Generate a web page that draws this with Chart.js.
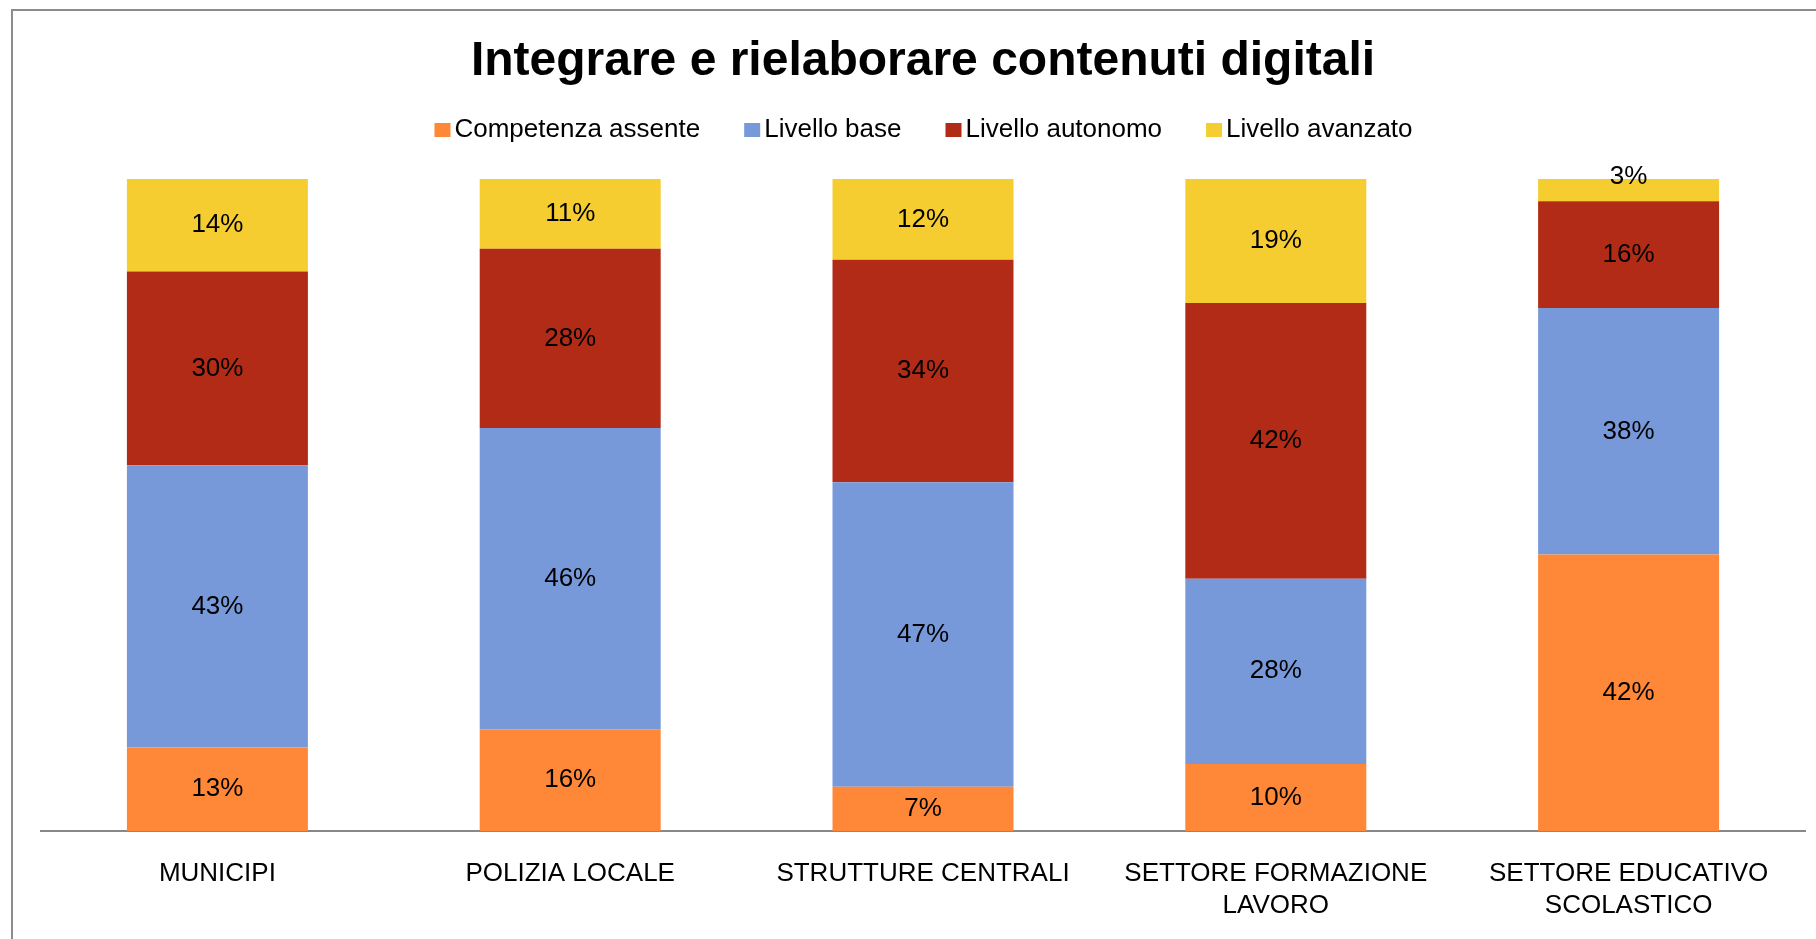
<!DOCTYPE html>
<html>
<head>
<meta charset="utf-8">
<script src="https://cdn.jsdelivr.net/npm/chart.js@4/dist/chart.umd.min.js"></script>
<style>
  html, body { margin: 0; padding: 0; background: #fff; overflow: hidden; }
  #frame {
    position: absolute; left: 11px; top: 9px;
    border-left: 2px solid #8c8c8c; border-top: 2px solid #8c8c8c;
  }
  #grafico { display: block; }
</style>
</head>
<body>
<div id="frame"><canvas id="grafico" width="1821" height="928"></canvas></div>
<script>
const categorie = [
    ['MUNICIPI'],
    ['POLIZIA LOCALE'],
    ['STRUTTURE CENTRALI'],
    ['SETTORE FORMAZIONE', 'LAVORO'],
    ['SETTORE EDUCATIVO', 'SCOLASTICO']
];
const serie = ['Competenza assente', 'Livello base', 'Livello autonomo', 'Livello avanzato'];
const assente   = [12.8, 15.6, 6.8, 10.3, 42.4];
const base      = [43.3, 46.2, 46.7, 28.4, 37.8];
const autonomo  = [29.7, 27.5, 34.1, 42.3, 16.4];
const avanzato  = [14.2, 10.7, 12.4, 19.0, 3.4];
const colori = ['#FF8838', '#7799D9', '#B22B16', '#F5CD30'];

const FONT = "'Liberation Sans', Arial, sans-serif";

// etichette percentuali al centro di ogni segmento
const etichette = {
    id: 'etichette',
    afterDatasetsDraw(chart) {
        const ctx = chart.ctx;
        ctx.save();
        ctx.font = '26px ' + FONT;
        ctx.fillStyle = '#000';
        ctx.textAlign = 'center';
        ctx.textBaseline = 'middle';
        chart.data.datasets.forEach((ds, i) => {
            const meta = chart.getDatasetMeta(i);
            meta.data.forEach((bar, j) => {
                const h = Math.abs(bar.base - bar.y);
                let y = (bar.y + bar.base) / 2;
                if (h < 26) y = bar.y - 2;
                ctx.fillText(Math.round(ds.data[j]) + '%', bar.x, y);
            });
        });
        ctx.restore();
    }
};

// legenda disegnata a mano (quadratino + testo)
const legenda = {
    id: 'legenda',
    afterDraw(chart) {
        const ctx = chart.ctx;
        ctx.save();
        ctx.font = '26px ' + FONT;
        ctx.textBaseline = 'middle';
        ctx.textAlign = 'left';
        const box = 16, gap = 4, spazio = 44;
        const larghezze = chart.data.datasets.map(ds => ctx.measureText(ds.label).width);
        let tot = larghezze.reduce((a, b) => a + b, 0) + chart.data.datasets.length * (box + gap) + (chart.data.datasets.length - 1) * spazio;
        let x = (chart.width - tot) / 2;
        const y = 119;
        chart.data.datasets.forEach((ds, i) => {
            ctx.fillStyle = ds.backgroundColor;
            ctx.fillRect(x, y - 7, box, 14);
            ctx.fillStyle = '#000';
            ctx.fillText(ds.label, x + box + gap, y);
            x += box + gap + larghezze[i] + spazio;
        });
        ctx.restore();
    }
};

const ctx = document.getElementById('grafico');

new Chart(ctx, {
    type: 'bar',
    data: {
        labels: categorie,
        datasets: [
            { label: serie[0], data: assente,  backgroundColor: colori[0] },
            { label: serie[1], data: base,     backgroundColor: colori[1] },
            { label: serie[2], data: autonomo, backgroundColor: colori[2] },
            { label: serie[3], data: avanzato, backgroundColor: colori[3] }
        ]
    },
    options: {
        responsive: false,
        animation: false,
        devicePixelRatio: 1,
        categoryPercentage: 1,
        barPercentage: 0.513,
        layout: { padding: { left: 28, right: 29, top: 0, bottom: -10 } },
        scales: {
            x: {
                stacked: true,
                grid: { display: false, drawTicks: false },
                border: { display: true, color: '#888888', width: 2 },
                ticks: {
                    color: '#000',
                    padding: 27,
                    maxRotation: 0,
                    autoSkip: false,
                    font: { family: FONT, size: 26, lineHeight: 1.23 }
                }
            },
            y: {
                stacked: true,
                display: false,
                min: 0,
                max: 100
            }
        },
        plugins: {
            title: {
                display: true,
                text: 'Integrare e rielaborare contenuti digitali',
                color: '#000',
                font: { family: FONT, size: 48, weight: 'bold' },
                padding: { top: 21.6, bottom: 88.8 }
            },
            legend: { display: false },
            tooltip: { enabled: false }
        }
    },
    plugins: [etichette, legenda]
});
</script>
</body>
</html>
